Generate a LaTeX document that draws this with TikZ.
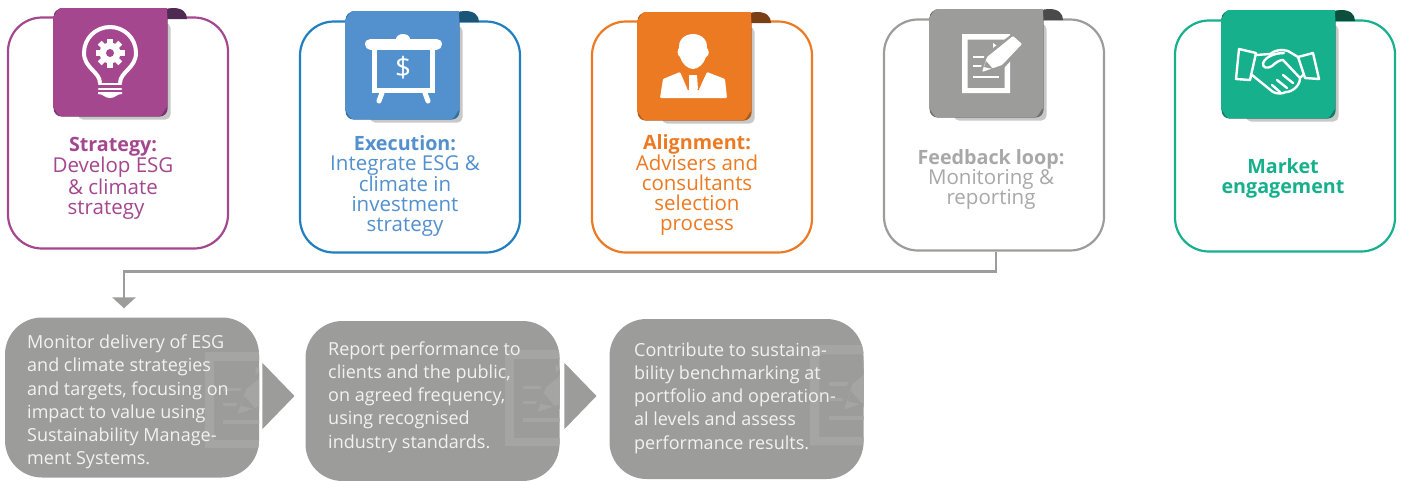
\documentclass[tikz,border=0pt]{standalone}
\usepackage{fontspec}
\setmainfont{Open Sans}
\usetikzlibrary{arrows.meta,shapes.geometric}

\definecolor{stratcol}{HTML}{A4478F}
\definecolor{stratdark}{HTML}{4F2A52}
\definecolor{execcol}{HTML}{5290CE}
\definecolor{execline}{HTML}{1F7FC0}
\definecolor{execdark}{HTML}{1A5578}
\definecolor{aligncol}{HTML}{EC7A22}
\definecolor{aligndark}{HTML}{7A3E14}
\definecolor{loopcol}{HTML}{9C9C9B}
\definecolor{looptext}{HTML}{A8A8A8}
\definecolor{loopdark}{HTML}{4A4A4A}
\definecolor{marketcol}{HTML}{17B08C}
\definecolor{marketdark}{HTML}{0B4F3C}
\definecolor{tabshadow}{HTML}{C8C8C8}
\definecolor{watermark}{HTML}{A5A5A4}
\definecolor{boxtext}{HTML}{F2F2F2}

\newcommand{\headfont}{\fontsize{19.7}{20}\selectfont\bfseries}

\newcommand{\tabpiece}[4]{
    \begin{scope}[shift={(#1, #2)}]
    \fill [tabshadow, rounded corners = 5] (25, 15) rectangle (117.5, 111.5);
    \fill [#4] (108, 11) .. controls (108, 2) and (113, 0) .. (120, 0)
               .. controls (129, 0) and (134, 4) .. (134, 11) -- cycle;
    \fill [#4!55!#3, rounded corners = 8] (0.6, 0.6) -- (0.6, 108.6) -- (114.6, 108.6) -- (114.6, 0.6) -- cycle;
    \fill [#3] (114, 0) -- (8, 0) to [out = 180, in = -90] (0, 8) -- (0, 100)
               to [out = 90, in = 180] (8, 108) -- (106, 108)
               to [out = 0, in = 90] (114, 100) -- cycle;
    \end{scope}
}

\newcommand{\docicon}[4]{
    \begin{scope}[shift={(#1, #2)}, scale = #3]
    \fill [#4, even odd rule] (0, 0) rectangle (48, 59) (5.5, 5.5) rectangle (42.5, 54);
    \fill [#4] (31, 9) -- (37, 13) -- (31, 17) -- cycle;
    \fill [#4] (11, 22) rectangle (29, 24.2);
    \fill [#4] (11, 31) rectangle (21, 33.2);
    \fill [#4] (11, 42) rectangle (37, 44);
    \fill [loopcol] (17, 40) -- (23, 20) -- (50, 0) -- (63, 11) -- (42, 34) -- cycle;
    \fill [#4, rounded corners = 1] (20, 38) -- (25, 23) -- (51, 2) -- (60, 10) -- (40, 31) -- cycle;
    \fill [loopcol] (22, 33) -- (24, 27) -- (31, 35) -- cycle;
    \end{scope}
}

\begin{document}
\begin{tikzpicture}[x = 1pt, y = -1pt,
                      card/.style = {rectangle, draw = #1, line width = 2.2pt, fill = white, rounded corners = 34,
                                     minimum width = 220, minimum height = 231, inner sep = 0},
                      cardtext/.style = {text = #1, align = center, inner sep = 0,
                                         font = \fontsize{20.5}{20}\selectfont},
                      stepbox/.style = {rectangle, fill = loopcol, rounded corners = 37,
                                        minimum width = 254, minimum height = 160, inner sep = 0},
                      boxtext/.style = {text = boxtext, align = left, anchor = west, inner sep = 0,
                                        font = \fontsize{18}{23.2}\selectfont},
                      stepnext/.style = {isosceles triangle, isosceles triangle stretches, fill = loopcol, inner sep = 0,
                                         minimum width = 66, minimum height = 32, anchor = apex},
                      feedline/.style = {draw = loopcol, line width = 2.6pt, shorten > = 9pt,
                                         -{Triangle[width = 23pt, length = 11pt]}}]
    \useasboundingbox (0, 0) rectangle (1402, 480);

    \node [card = stratcol] (strategy) at (118, 133){};
    \node [card = execline] (execution) at (410, 137){};
    \node [card = aligncol] (alignment) at (702, 137){};
    \node [card = loopcol] (feedback) at (994, 135){};
    \node [card = marketcol] (market) at (1285, 136){};

    \tabpiece{53}{8}{stratcol}{stratdark}
    \tabpiece{345}{11}{execcol}{execdark}
    \tabpiece{637}{12}{aligncol}{aligndark}
    \tabpiece{929}{9}{loopcol}{loopdark}
    \tabpiece{1221}{10}{marketcol}{marketdark}

    % bulb
    \draw [white, line width = 4pt] (100, 83) .. controls (100, 72) and (84, 68) .. (84, 53)
        .. controls (84, 38) and (96, 27) .. (110, 27) .. controls (124, 27) and (136, 38) .. (136, 53)
        .. controls (136, 68) and (120, 72) .. (120, 83);
    \draw [white, line width = 2.6pt, line cap = round] (99, 84) -- (121, 84);
    \draw [white, line width = 2.6pt, line cap = round] (99, 89) -- (121, 89);
    \fill [white] (98, 92) -- (122, 92) -- (122, 94) .. controls (116, 94) and (116, 98) .. (110, 98)
        .. controls (104, 98) and (104, 94) .. (98, 94) -- cycle;
    \fill [white] (110, 53) circle (10.5);
    \foreach \a in {0, 45, ..., 315}
        \fill [white, shift = {(110, 53)}, rotate = \a] (-2.8, -14.5) rectangle (2.8, -8);
    \fill [stratcol] (110, 53) circle (4);

    % screen
    \fill [white] (403, 39) ellipse (7 and 5);
    \draw [white, line width = 11pt, line cap = round] (370.5, 44) -- (436.5, 44);
    \draw [white, line width = 5pt] (374.5, 46) rectangle (432.5, 90.5);
    \draw [white, line width = 5pt, line cap = round] (382, 93) -- (379, 101);
    \draw [white, line width = 5pt, line cap = round] (425, 93) -- (428, 101);
    \node [text = white, inner sep = 0, font = \fontsize{28}{28}\selectfont] (dollar) at (403, 68){\$};

    % adviser
    \fill [white] (693, 34) .. controls (703, 34) and (708, 42) .. (707, 48) .. controls (709, 50) and (710, 55) .. (706, 57)
        .. controls (704, 64) and (698, 69) .. (693, 69) .. controls (688, 69) and (682, 64) .. (680, 57)
        .. controls (677, 55) and (677, 50) .. (679, 48) .. controls (678, 42) and (683, 34) .. (693, 34) -- cycle;
    \fill [white, rounded corners = 1] (680, 72) -- (663, 79) -- (660, 98) -- (727, 98) -- (725, 79) -- (707, 72)
        -- (698, 90) -- (697, 75) -- (689, 75) -- (689, 90) -- cycle;
    \fill [white] (689, 75) -- (697, 75) -- (695, 82) -- (698, 91) -- (688, 91) -- (691, 82) -- cycle;
    \draw [aligncol, line width = 1.2pt] (681, 72) -- (688.5, 90);
    \draw [aligncol, line width = 1.2pt] (706, 72) -- (698, 90);

    % report
    \docicon{962}{34}{1}{white}

    % handshake
    \begin{scope}[white, line width = 2.4pt, line join = round, line cap = round]
    \draw (1239, 49) -- (1256, 53) -- (1250, 80) -- (1236, 79) -- cycle;
    \draw (1298, 57) -- (1313, 53) -- (1319, 79) -- (1305, 78) -- cycle;
    \draw (1256, 55) -- (1270, 54) .. controls (1275, 50) and (1282, 49) .. (1288, 51) -- (1298, 57);
    \draw (1252, 75) -- (1273, 92) .. controls (1277, 94) and (1282, 94) .. (1286, 92)
        .. controls (1292, 92) and (1300, 86) .. (1300, 78) -- (1303, 75);
    \draw (1284, 53) .. controls (1276, 53) and (1266, 56) .. (1263, 63) .. controls (1262, 68) and (1268, 69) .. (1272, 66)
        .. controls (1276, 62) and (1280, 60) .. (1283, 60) -- (1300, 78);
    \draw (1272, 85) -- (1280, 92);
    \draw (1277, 80) -- (1287, 88);
    \draw (1283, 75) -- (1293, 83);
    \end{scope}

    \node [cardtext = stratcol] (strategytext) at (113, 178){{\headfont Strategy:}\\Develop ESG\\\& climate\\strategy\hspace*{14pt}};
    \node [cardtext = execcol] (executiontext) at (405, 186){{\headfont Execution:}\\Integrate ESG \&\\climate in\\investment\\strategy};
    \node [cardtext = aligncol] (alignmenttext) at (697, 185){{\headfont Alignment:}\\Advisers and\\consultants\\selection\\process};
    \node [cardtext = looptext] (feedbacktext) at (991, 179){{\headfont Feedback loop:}\\Monitoring \&\\reporting};
    \node [cardtext = marketcol, font = \headfont] (markettext) at (1283, 178){Market\\engagement};

    \node [stepbox] (monitor) at (132, 397.5){};
    \node [stepbox] (report) at (432.5, 401){};
    \node [stepbox] (contribute) at (736.5, 399){};
    \node [stepnext] (nextone) at (295, 396){};
    \node [stepnext] (nexttwo) at (597, 396){};

    \begin{scope}
    \clip [rounded corners = 37] (5, 317.5) rectangle (259, 477.5);
    \docicon{205}{352}{1.63}{watermark}
    \end{scope}
    \begin{scope}
    \clip [rounded corners = 37] (305.5, 321) rectangle (559.5, 481);
    \docicon{505}{350}{1.63}{watermark}
    \end{scope}
    \begin{scope}
    \clip [rounded corners = 37] (609.5, 319) rectangle (863.5, 479);
    \docicon{810}{345}{1.7}{watermark}
    \end{scope}

    \node [boxtext] (monitortext) at (27, 402){Monitor delivery of ESG\\and climate strategies\\and targets, focusing on\\impact to value using\\Sustainability Manage-\\ment Systems.};
    \node [boxtext] (reporttext) at (328, 397){Report performance to\\clients and the public,\\on agreed frequency,\\using recognised\\industry standards.};
    \node [boxtext] (contributetext) at (634, 398){Contribute to sustaina-\\bility benchmarking at\\portfolio and operation-\\al levels and assess\\performance results.};

    \draw [feedline] ([xshift = 2]feedback.south) -- ++(0, 20) -| ([xshift = -8]monitor.north);
\end{tikzpicture}
\end{document}
